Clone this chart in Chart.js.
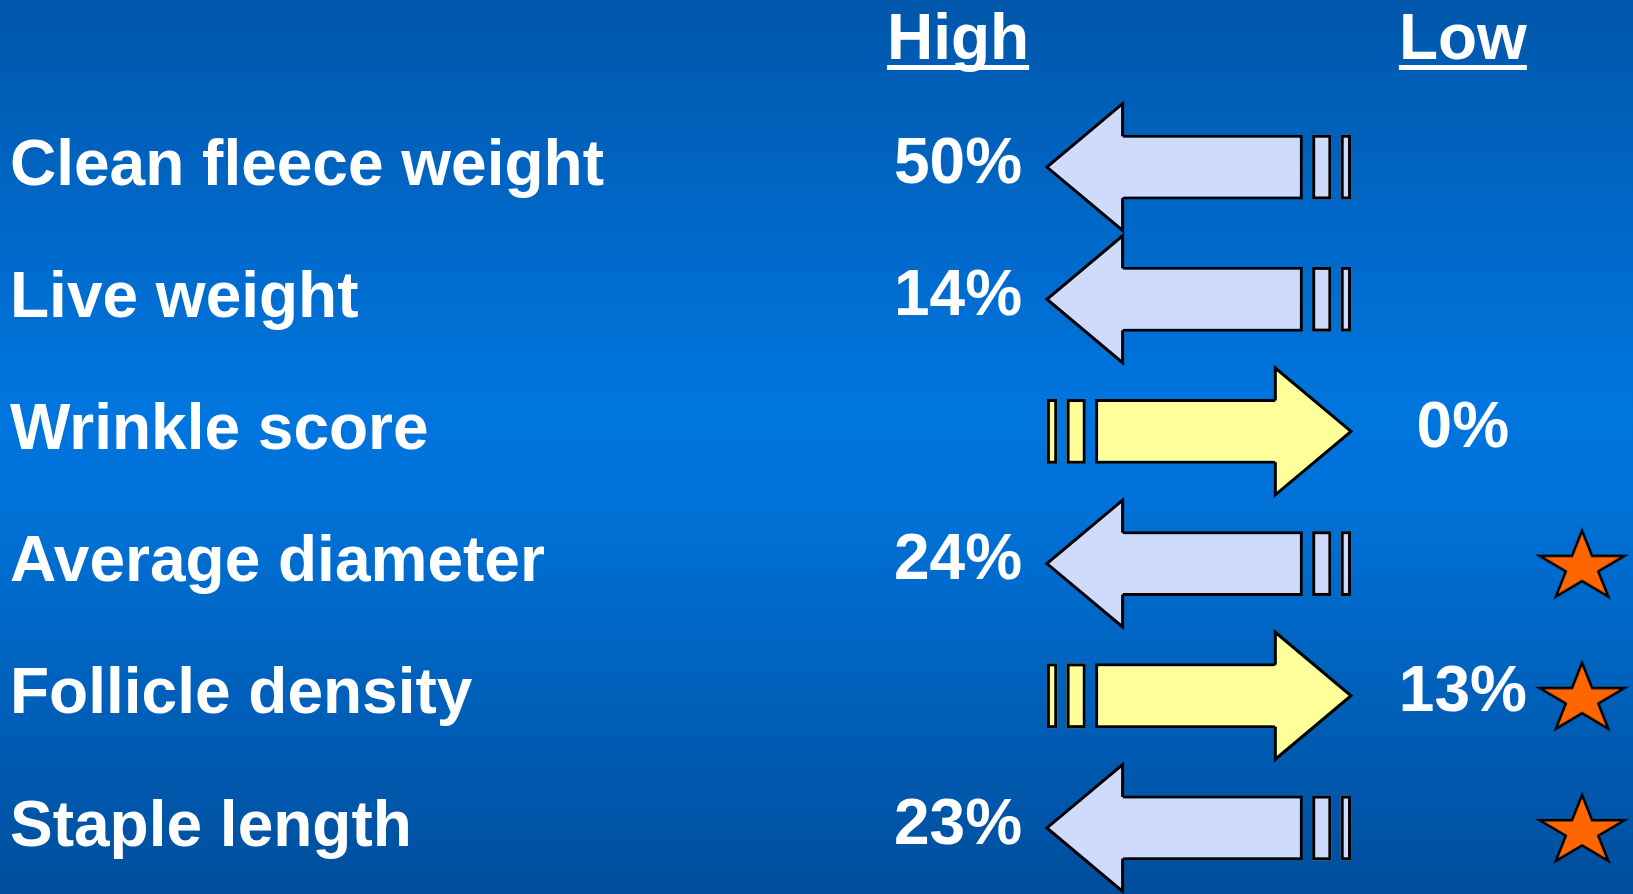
<!DOCTYPE html>
<html>
<head>
<meta charset="utf-8">
<title>Fleece traits</title>
<script src="https://cdn.jsdelivr.net/npm/chart.js@4.4.1/dist/chart.umd.min.js"></script>
<style>
  html, body { margin: 0; padding: 0; background: #0066c4; }
  canvas { display: block; }
</style>
</head>
<body>
<canvas id="traitChart" width="1633" height="894"></canvas>
<script>
// rows, top to bottom
const traits = ['Clean fleece weight', 'Live weight', 'Wrinkle score', 'Average diameter', 'Follicle density', 'Staple length'];
const directions = ['High', 'High', 'Low', 'High', 'Low', 'High'];
const percents = [50, 14, 0, 24, 13, 23];
const starred = [false, false, false, true, true, true];
const columns = ['High', 'Low'];
const columnValues = [0, 100];

// arrow shape, in x-axis units
const ARROW_START = 17.6;
const HEAD_LEN = 15;
const SHAFT_LEN = 35.7;
const GAP = 1.85;
const STRIPES = [3.8, 2.05];
const STAR_X = 123.6;

const HIGH_FILL = '#cfdbfc';
const LOW_FILL = '#ffff99';
const FONT = "'Liberation Sans', Arial, Helvetica, sans-serif";

Chart.defaults.font.family = FONT;

const shafts = directions.map(d => {
  if (d === 'High') {
    return [ARROW_START + HEAD_LEN, ARROW_START + HEAD_LEN + SHAFT_LEN];
  }
  const s = ARROW_START + STRIPES[1] + GAP + STRIPES[0] + GAP;
  return [s, s + SHAFT_LEN];
});

const starPoints = [];
starred.forEach((s, i) => {
  if (s) starPoints.push({ x: STAR_X, y: traits[i] });
});

function makeStar() {
  const c = document.createElement('canvas');
  c.width = 100;
  c.height = 86;
  const g = c.getContext('2d');
  const sx = 85 / 1.902, sy = 66 / 1.809;
  const cx = 50, cy = 43 + 0.0955 * sy;
  g.beginPath();
  for (let k = 0; k < 10; k++) {
    const a = -Math.PI / 2 + k * Math.PI / 5;
    const r = k % 2 === 0 ? 1 : 0.382;
    const x = cx + Math.cos(a) * r * sx;
    const y = cy + Math.sin(a) * r * sy;
    if (k === 0) g.moveTo(x, y); else g.lineTo(x, y);
  }
  g.closePath();
  g.fillStyle = '#ff6600';
  g.fill();
  g.lineWidth = 2.5;
  g.lineJoin = 'miter';
  g.strokeStyle = '#000';
  g.stroke();
  return c;
}

const backdrop = {
  id: 'backdrop',
  beforeDraw(chart) {
    const { ctx, width, height } = chart;
    const grad = ctx.createLinearGradient(0, 0, 0, height);
    grad.addColorStop(0, '#0057ab');
    grad.addColorStop(0.45, '#0075de');
    grad.addColorStop(0.55, '#0073da');
    grad.addColorStop(1, '#004e9c');
    ctx.save();
    ctx.fillStyle = grad;
    ctx.fillRect(0, 0, width, height);
    ctx.restore();
  }
};

const arrowParts = {
  id: 'arrowParts',
  afterDatasetsDraw(chart) {
    const { ctx } = chart;
    const xs = chart.scales.x, ys = chart.scales.y;
    const px = u => xs.getPixelForValue(u) - xs.getPixelForValue(0);
    const step = Math.abs(ys.getPixelForValue(1) - ys.getPixelForValue(0));
    const meta = chart.getDatasetMeta(0);
    ctx.save();
    ctx.lineWidth = 3;
    ctx.strokeStyle = '#000';
    ctx.lineJoin = 'miter';
    meta.data.forEach((bar, i) => {
      const high = directions[i] === 'High';
      const fill = high ? HIGH_FILL : LOW_FILL;
      const left = Math.min(bar.x, bar.base);
      const right = Math.max(bar.x, bar.base);
      const top = bar.y - bar.height / 2;
      const bottom = bar.y + bar.height / 2;
      const half = step * 0.48;
      const back = high ? left : right;
      const tip = high ? back - px(HEAD_LEN) : back + px(HEAD_LEN);
      const over = high ? 2 : -2;

      // head
      ctx.fillStyle = fill;
      ctx.beginPath();
      ctx.moveTo(back + over, top + 3);
      ctx.lineTo(back, top + 3);
      ctx.lineTo(back, bar.y - half);
      ctx.lineTo(tip, bar.y);
      ctx.lineTo(back, bar.y + half);
      ctx.lineTo(back, bottom - 3);
      ctx.lineTo(back + over, bottom - 3);
      ctx.closePath();
      ctx.fill();
      ctx.beginPath();
      ctx.moveTo(back, top + 1.5);
      ctx.lineTo(back, bar.y - half);
      ctx.lineTo(tip, bar.y);
      ctx.lineTo(back, bar.y + half);
      ctx.lineTo(back, bottom - 1.5);
      ctx.stroke();

      // tail stripes
      let edge = high ? right : left;
      STRIPES.forEach(w => {
        const wp = px(w), gp = px(GAP);
        const x0 = high ? edge + gp : edge - gp - wp;
        ctx.fillStyle = fill;
        ctx.fillRect(x0, top, wp, bottom - top);
        ctx.strokeRect(x0 + 1.5, top + 1.5, wp - 3, bottom - top - 3);
        edge = high ? x0 + wp : x0;
      });
    });
    ctx.restore();
  }
};

const textLayer = {
  id: 'textLayer',
  afterDraw(chart) {
    const { ctx } = chart;
    const xs = chart.scales.x, ys = chart.scales.y;
    ctx.save();
    ctx.fillStyle = '#fff';
    ctx.font = 'bold 64px ' + FONT;
    ctx.textAlign = 'center';

    // column headers, underlined
    ctx.textBaseline = 'alphabetic';
    const headY = chart.chartArea.top - 42;
    columns.forEach((c, i) => {
      const x = xs.getPixelForValue(columnValues[i]);
      ctx.fillText(c, x, headY);
      const w = ctx.measureText(c).width;
      ctx.fillRect(x - w / 2, headY + 6, w, 5);
    });

    // percentages
    ctx.textBaseline = 'middle';
    percents.forEach((p, i) => {
      const col = columns.indexOf(directions[i]);
      const x = xs.getPixelForValue(columnValues[col]);
      ctx.fillText(p + '%', x, ys.getPixelForValue(i) - 2);
    });
    ctx.restore();
  }
};

const ctx = document.getElementById('traitChart').getContext('2d');
const traitChart = new Chart(ctx, {
  type: 'bar',
  data: {
    labels: traits,
    datasets: [
      {
        label: 'Direction',
        data: shafts,
        backgroundColor: directions.map(d => d === 'High' ? HIGH_FILL : LOW_FILL),
        borderColor: '#000',
        borderWidth: 3,
        borderSkipped: c => directions[c.dataIndex] === 'High' ? 'left' : 'right',
        categoryPercentage: 1,
        barPercentage: 0.49
      },
      {
        type: 'scatter',
        label: 'Significant',
        data: starPoints,
        pointStyle: makeStar(),
        pointRadius: 10,
        clip: false
      }
    ]
  },
  options: {
    indexAxis: 'y',
    responsive: false,
    animation: false,
    events: [],
    layout: {
      autoPadding: false,
      padding: { left: 10, top: 101, right: 0, bottom: 0 }
    },
    plugins: {
      legend: { display: false },
      tooltip: { enabled: false }
    },
    scales: {
      x: {
        type: 'linear',
        min: -63,
        max: 133.7,
        display: false
      },
      y: {
        type: 'category',
        offset: true,
        grid: { display: false },
        border: { display: false },
        ticks: {
          color: '#fff',
          crossAlign: 'far',
          autoSkip: false,
          padding: 0,
          font: { size: 64, weight: 'bold' }
        },
        afterFit(scale) {
          scale.width = 630;
          scale.paddingTop = 0;
          scale.paddingBottom = 0;
          scale.paddingLeft = 0;
          scale.paddingRight = 0;
        }
      }
    }
  },
  plugins: [backdrop, arrowParts, textLayer]
});
</script>
</body>
</html>
